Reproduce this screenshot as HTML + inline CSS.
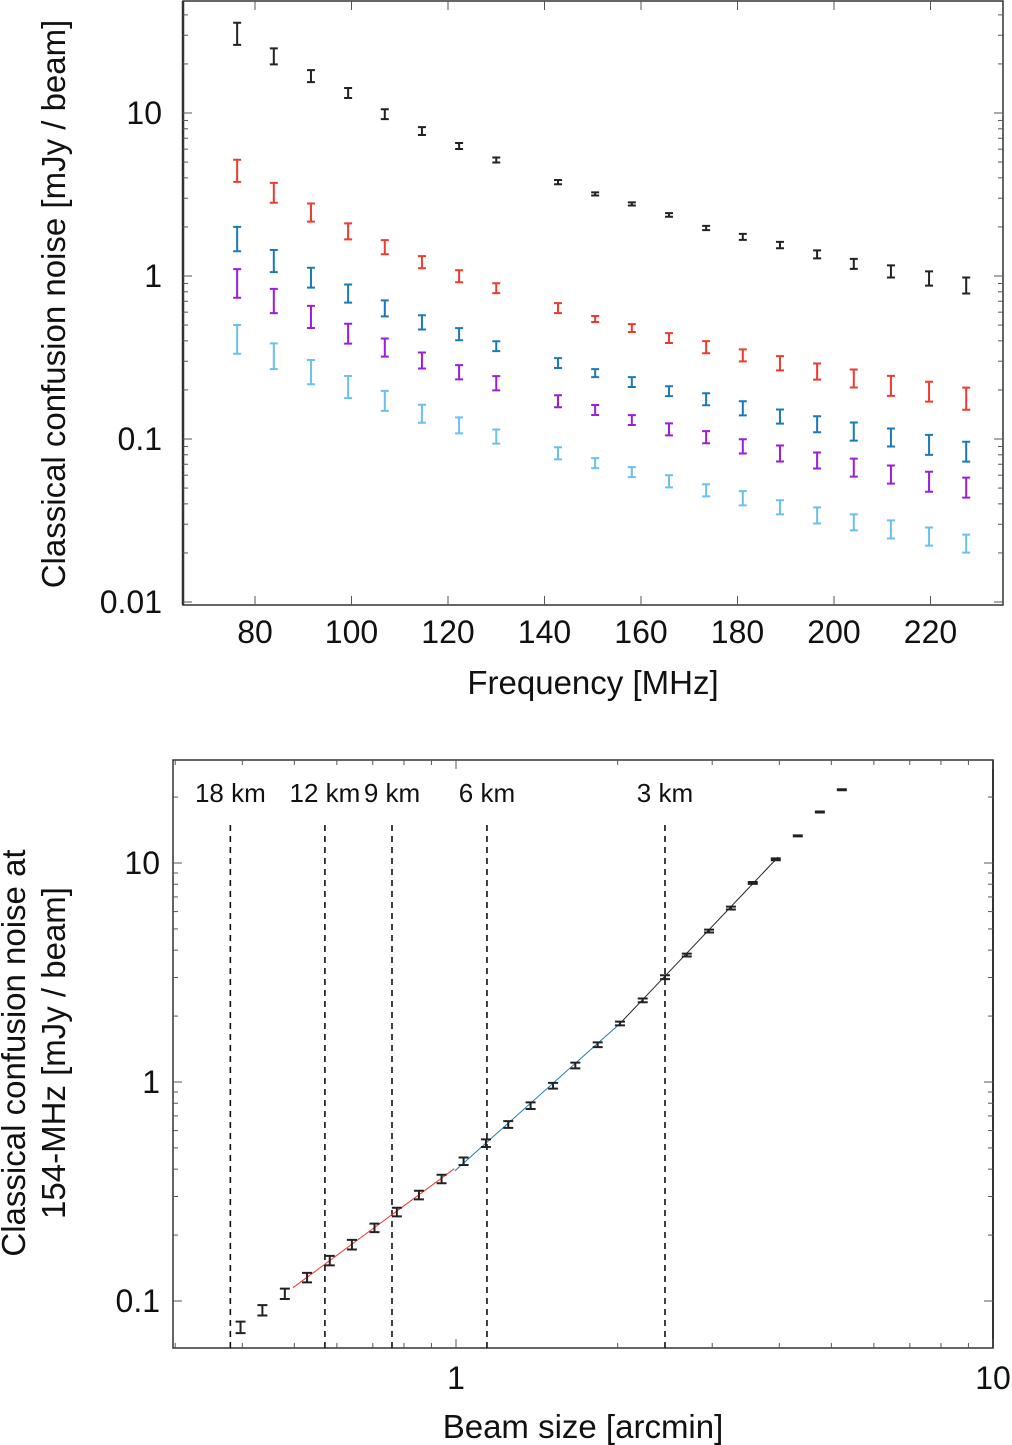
<!DOCTYPE html>
<html><head><meta charset="utf-8"><style>
html,body{margin:0;padding:0;background:#fff;}
svg{display:block;font-family:"Liberation Sans",Arial,sans-serif;}
</style></head><body>
<svg id="svg" width="1012" height="1445" viewBox="0 0 1012 1445" xmlns="http://www.w3.org/2000/svg">
<g id="top"></g>
<g id="bot"></g>
</svg>
<script>
// ---- top chart data ----
const freqs = [76.3,83.9,91.6,99.3,106.9,114.6,122.3,130,142.8,150.5,158.1,165.8,173.5,181.1,188.8,196.5,204.1,211.8,219.7,227.4];
const blackVals = [31.0,22.4,16.9,13.3,9.86,7.76,6.28,5.15,3.77,3.19,2.77,2.37,1.97,1.74,1.55,1.36,1.19,1.07,0.97,0.88];
const blackErrPct = [15.5,11.3,8.5,7,7,5.6,4.2,3.5,3,2.2,2.2,2.5,3,4.2,4.5,5.6,7,8.5,10,11.3];
const redVals = [4.47,3.27,2.47,1.89,1.51,1.22,1.0,0.844,0.637,0.545,0.48,0.417,0.367,0.327,0.293,0.261,0.237,0.214,0.197,0.179];
const redErrPct = [15.5,14,12.7,11.3,10,8.5,8.5,7,7,4.2,5.6,7,8.5,8.5,10,11.3,12.7,14,14,15.5];
const blueVals = [1.71,1.25,0.986,0.787,0.637,0.522,0.441,0.372,0.293,0.254,0.224,0.197,0.176,0.155,0.138,0.124,0.112,0.103,0.093,0.0844];
const blueErrPct = [17,15.5,14,12.7,11.3,10,8.5,7,7,5.6,7,7,8.5,10,10,11.3,12.7,12.7,14,14];
const purpleVals = [0.919,0.713,0.568,0.447,0.367,0.305,0.258,0.221,0.171,0.151,0.131,0.115,0.103,0.0906,0.082,0.0743,0.0673,0.061,0.0552,0.0508];
const purpleErrPct = [20,17,15.5,14,12.7,11.3,10,10,8.5,7,7,8.5,8.5,10,11.3,11.3,12.7,12.7,14,14];
const lightVals = [0.417,0.327,0.261,0.211,0.173,0.144,0.122,0.104,0.082,0.0713,0.0628,0.0552,0.0486,0.0435,0.0383,0.0342,0.031,0.0281,0.0254,0.023];
const lightErrPct = [20,18,17,15.5,14,12.7,11.3,10,8.5,7,7,8.5,8.5,10,10,11.3,11.3,12.7,12.7,12.7];
const topXTicks = [80,100,120,140,160,180,200,220];
const topYTicks = [10,1,0.1,0.01];
const topYTickLabels = ["10","1","0.1","0.01"];

// ---- bottom chart data ----
const beams = [0.397,0.436,0.480,0.528,0.582,0.640,0.705,0.776,0.853,0.940,1.033,1.137,1.251,1.377,1.516,1.668,1.836,2.020,2.227,2.450,2.69,2.96,3.25,3.57,3.94,4.33,4.76,5.23];
const beamVals = [0.0759,0.0908,0.108,0.128,0.153,0.181,0.216,0.255,0.305,0.361,0.435,0.526,0.640,0.780,0.962,1.19,1.48,1.85,2.36,3.01,3.80,4.89,6.23,8.11,10.4,13.3,17.1,21.6];
const beamErrPct = [6,5.5,5.5,5,5,5,4.5,4.5,4.5,4.5,4,4,3.5,3.5,3,3,2.5,2,2,2,1.5,1.5,1.5,1,1,0.5,0.5,0.5];
const fitBeams = [[0.497,0.993],[0.995,2.02],[2.02,3.98]];
const fitVals = [[0.115,0.402],[0.393,1.85],[1.85,10.65]];
const fitNames = ["fit-line-red","fit-line-blue","fit-line-black"];
const fitColors = ["#f03a2e","#1a7ab8","#222"];
const baselineBeams = [0.380,0.570,0.760,1.142,2.45];
const baselineLabels = ["18 km","12 km","9 km","6 km","3 km"];
const botXTicks = [1,10];
const botYTicks = [10,1,0.1];

const NS = "http://www.w3.org/2000/svg";
function mk(parent, tag, attrs, text){
  const e = document.createElementNS(NS, tag);
  for (const k in attrs) e.setAttribute(k, attrs[k]);
  if (text !== undefined) e.textContent = text;
  parent.appendChild(e); return e;
}

// ===== TOP =====
const T = document.getElementById('top');
const tL=183,tR=1003,tT=1,tB=605;
const tx = f => 255 + (f-80)*4.825;
const ty = v => 276 - 163*Math.log10(v);
{
  const r = mk(T,'rect',{x:tL,y:tT,width:tR-tL,height:tB-tT,fill:'none',stroke:'#333','stroke-width':1.5});
  
  
  mk(T,'line',{x1:tL,y1:tT,x2:tL,y2:tB,stroke:'#333','stroke-width':2.5});
  topXTicks.forEach(f=>{
    const x=tx(f);
    mk(T,'line',{x1:x,y1:tB,x2:x,y2:tB-9,stroke:'#555'});
    mk(T,'line',{x1:x,y1:tT,x2:x,y2:tT+9,stroke:'#555'});
    const t=mk(T,'text',{x:x,y:643,'font-size':32,'text-anchor':'middle',fill:'#111'},String(f));
    
    
  });
  for(let d=-2; d<=1; d++){
    for(let m=1;m<=9;m++){
      const v=m*Math.pow(10,d), y=ty(v);
      if(y<tT||y>tB) continue;
      const len = m===1?9:5;
      mk(T,'line',{x1:tL,y1:y,x2:tL+len,y2:y,stroke:'#555'});
      mk(T,'line',{x1:tR,y1:y,x2:tR-len,y2:y,stroke:'#555'});
    }
  }
  topYTicks.forEach((v,i)=>{
    const t=mk(T,'text',{x:162,y:ty(v)+11,'font-size':32,'text-anchor':'end',fill:'#111'},topYTickLabels[i]);
    
    
  });
  const xl=mk(T,'text',{x:593,y:694,'font-size':33,'text-anchor':'middle',fill:'#111'},'Frequency [MHz]');
  
  
  const yl=mk(T,'text',{x:0,y:0,'font-size':33,'text-anchor':'middle',fill:'#111',transform:'translate(65,304) rotate(-90)'},'Classical confusion noise [mJy / beam]');
  
  

  const series = [
    ['series-black',blackVals,blackErrPct,'#222'],
    ['series-red',redVals,redErrPct,'#ee3b2f'],
    ['series-blue',blueVals,blueErrPct,'#1a7ab8'],
    ['series-purple',purpleVals,purpleErrPct,'#9a1edb'],
    ['series-lightblue',lightVals,lightErrPct,'#6cc0ee']
  ];
  series.forEach(([name,vals,errs,col])=>{
    const g=mk(T,'g',{stroke:col,'stroke-width':2,fill:'none'});
    
    
    vals.forEach((v,i)=>{
      const x=tx(freqs[i]), e=v*errs[i]/100;
      const y1=ty(v+e), y2=ty(Math.max(v-e,1e-6));
      const eb=mk(g,'path',{d:`M${x-4},${y1}H${x+4}M${x},${y1}V${y2}M${x-4},${y2}H${x+4}`});
      
      
    });
  });
}

// ===== BOTTOM =====
const B = document.getElementById('bot');
const bL=173,bR=993,bT=760,bB=1348;
const bx = b => 456 + 537*Math.log10(b);
const by = v => 1082 - 219*Math.log10(v);
{
  const r=mk(B,'rect',{x:bL,y:bT,width:bR-bL,height:bB-bT,fill:'none',stroke:'#333','stroke-width':1.5});
  
  
  mk(B,'line',{x1:bR,y1:bT,x2:bR,y2:bB,stroke:'#333','stroke-width':2});
  for(let d=-1; d<=1; d++){
    for(let m=1;m<=9;m++){
      const v=m*Math.pow(10,d);
      const x=bx(v);
      if(x>=bL-0.5&&x<=bR+0.5){
        const len=m===1?9:5;
        mk(B,'line',{x1:x,y1:bB,x2:x,y2:bB-len,stroke:'#555'});
        mk(B,'line',{x1:x,y1:bT,x2:x,y2:bT+len,stroke:'#555'});
      }
      const y=by(v);
      if(y>=bT&&y<=bB){
        const len=m===1?9:5;
        mk(B,'line',{x1:bL,y1:y,x2:bL+len,y2:y,stroke:'#555'});
        mk(B,'line',{x1:bR,y1:y,x2:bR-len,y2:y,stroke:'#555'});
      }
    }
  }
  botXTicks.forEach(b=>{
    const t=mk(B,'text',{x:bx(b),y:1389,'font-size':32,'text-anchor':'middle',fill:'#111'},String(b));
    
    
  });
  botYTicks.forEach(v=>{
    const t=mk(B,'text',{x:160,y:by(v)+11,'font-size':32,'text-anchor':'end',fill:'#111'},String(v));
    
    
  });
  const xl=mk(B,'text',{x:583,y:1438,'font-size':33,'text-anchor':'middle',fill:'#111'},'Beam size [arcmin]');
  
  
  const yl1=mk(B,'text',{x:0,y:0,'font-size':33,'text-anchor':'middle',fill:'#111',transform:'translate(25,1053) rotate(-90)'},'Classical confusion noise at');
  
  
  const yl2=mk(B,'text',{x:0,y:0,'font-size':33,'text-anchor':'middle',fill:'#111',transform:'translate(65,1053) rotate(-90)'},'154-MHz [mJy / beam]');
  
  

  baselineBeams.forEach((b,i)=>{
    const x=bx(b);
    const l=mk(B,'line',{x1:x,y1:825,x2:x,y2:bB,stroke:'#111','stroke-width':1.6,'stroke-dasharray':'6,5'});
    
    
    const t=mk(B,'text',{x:x,y:802,'font-size':26,'text-anchor':'middle',fill:'#111'},baselineLabels[i]);
    
    
  });

  fitBeams.forEach((fb,i)=>{
    const l=mk(B,'line',{x1:bx(fb[0]),y1:by(fitVals[i][0]),x2:bx(fb[1]),y2:by(fitVals[i][1]),stroke:fitColors[i],'stroke-width':1});
    
    
  });

  const g=mk(B,'g',{stroke:'#222','stroke-width':2,fill:'none'});
  
  
  beamVals.forEach((v,i)=>{
    const x=bx(beams[i]), e=v*beamErrPct[i]/100;
    const y1=by(v+e), y2=by(v-e);
    const eb=mk(g,'path',{d:`M${x-5},${y1}H${x+5}M${x},${y1}V${y2}M${x-5},${y2}H${x+5}`});
    
    
  });
}
</script>
</body></html>
